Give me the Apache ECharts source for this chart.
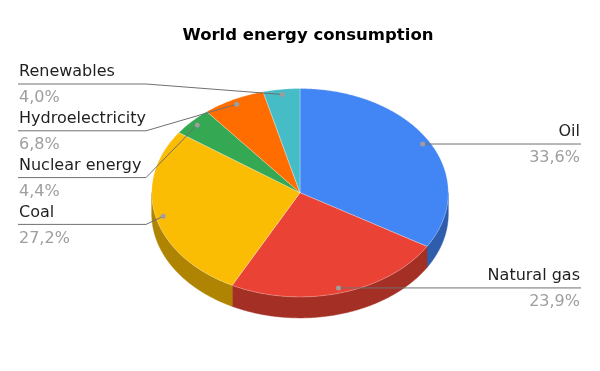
<!DOCTYPE html>
<html><head><meta charset="utf-8">
<script src="https://cdn.jsdelivr.net/npm/echarts@6/dist/echarts.min.js"></script>
<style>html,body{margin:0;padding:0;background:#fff}#c{width:600px;height:371px}</style>
</head><body><div id="c"></div>
<script>
// ---- data ----
const titleText = 'World energy consumption';
const categories = ['Oil', 'Natural gas', 'Coal', 'Nuclear energy', 'Hydroelectricity', 'Renewables'];
const shares = [33.6, 23.9, 27.2, 4.4, 6.8, 4.0];
const colors = ['#4285F4', '#EA4335', '#FBBC04', '#34A853', '#FF6D01', '#46BDC6'];

// ---- layout / style ----
const CX = 300, CY = 192.7, RX = 148.3, RY = 104.2, DEPTH = 21;
const DOT_F = 0.95;
const LEFT_X = 18, ELBOW_X = 146, RIGHT_X = 581;
const LEFT_TOP = 84, LEFT_STEP = 46.8;
const FONT = 'DejaVu Sans';

const total = shares.reduce((a, b) => a + b, 0);
const rad = d => d * Math.PI / 180;
function pt(deg, f, dy) {
  return [CX + RX * f * Math.cos(rad(deg)), CY + RY * f * Math.sin(rad(deg)) + (dy || 0)];
}
function darken(hex, k) {
  const n = parseInt(hex.slice(1), 16);
  const r = Math.round(((n >> 16) & 255) * k), g = Math.round(((n >> 8) & 255) * k), b = Math.round((n & 255) * k);
  return 'rgb(' + r + ',' + g + ',' + b + ')';
}
// slice angles
const spans = [];
(function () { let a = -90; shares.forEach(v => { const s = a; a += v / total * 360; spans.push([s, a]); }); })();
function arc(s, e, f, dy) {
  const out = []; const n = Math.max(2, Math.ceil((e - s) / 0.5));
  for (let i = 0; i <= n; i++) out.push(pt(s + (e - s) * i / n, f, dy));
  return out;
}
// label layout
const labelInfo = spans.map(([s, e], i) => {
  const mid = (s + e) / 2;
  const dot = pt(mid, DOT_F, 0);
  return { i, mid, dot, left: Math.cos(rad(mid)) < 0 };
});
labelInfo.filter(l => l.left).sort((a, b) => a.dot[1] - b.dot[1]).forEach((l, k) => { l.y = LEFT_TOP + k * LEFT_STEP; });
labelInfo.filter(l => !l.left).forEach(l => { l.y = l.dot[1]; });

const data = categories.map((c, i) => ({ name: c, value: shares[i] }));

function renderSlice(params, api) {
  const i = params.dataIndex;
  const [s, e] = spans[i];
  const children = [];
  const lo = Math.max(s, 0), hi = Math.min(e, 180);
  if (lo < hi) {
    const pts = arc(lo, hi, 1, 0).concat(arc(lo, hi, 1, DEPTH).reverse());
    const sc = darken(colors[i], 0.7);
    children.push({ type: 'polygon', shape: { points: pts }, style: { fill: sc, stroke: sc, lineWidth: 0.5 } });
  }
  const top = [[CX, CY]].concat(arc(s, e, 1, 0));
  children.push({ type: 'polygon', shape: { points: top }, style: { fill: colors[i], stroke: 'rgba(255,255,255,0.35)', lineWidth: 0.8 } });
  return { type: 'group', children };
}

function renderLabel(params, api) {
  const i = params.dataIndex;
  const l = labelInfo[i];
  const pct = (api.value(0) / total * 100).toFixed(1).replace('.', ',') + '%';
  const children = [];
  let line;
  if (l.left) {
    line = [[LEFT_X, l.y], [ELBOW_X, l.y], l.dot];
  } else {
    line = [l.dot, [RIGHT_X, l.y]];
  }
  children.push({ type: 'polyline', shape: { points: line }, style: { stroke: '#707070', lineWidth: 1, fill: null } });
  children.push({ type: 'circle', shape: { cx: l.dot[0], cy: l.dot[1], r: 2.5 }, style: { fill: '#9e9e9e' } });
  const tx = l.left ? LEFT_X + 1 : RIGHT_X - 1;
  const al = l.left ? 'left' : 'right';
  children.push({ type: 'text', x: tx, y: l.y - 12, style: { text: categories[i], fill: '#1f1f1f', font: '16px "' + FONT + '"', align: al, verticalAlign: 'middle' } });
  children.push({ type: 'text', x: tx, y: l.y + 14, style: { text: pct, fill: '#9e9e9e', font: '16px "' + FONT + '"', align: al, verticalAlign: 'middle' } });
  return { type: 'group', children };
}

const chart = echarts.init(document.getElementById('c'), null, { renderer: 'canvas' });
chart.setOption({
  animation: false,
  backgroundColor: '#fff',
  title: { text: titleText, left: 303, textAlign: 'center', top: 22, textStyle: { fontFamily: FONT, fontWeight: 'bold', fontSize: 16.5, color: '#000' } },
  series: [
    { type: 'custom', coordinateSystem: 'none', data: data, renderItem: renderSlice, z: 1 },
    { type: 'custom', coordinateSystem: 'none', data: data, renderItem: renderLabel, z: 2, silent: true }
  ]
});
</script></body></html>
